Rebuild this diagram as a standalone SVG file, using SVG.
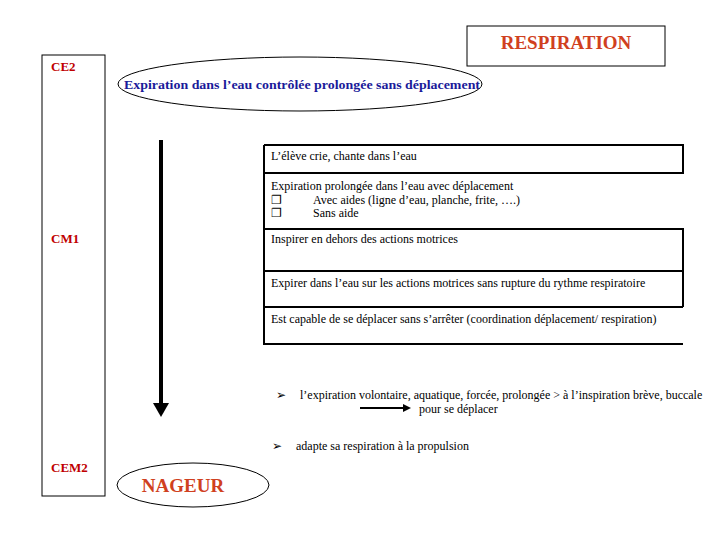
<svg xmlns="http://www.w3.org/2000/svg" width="720" height="540" viewBox="0 0 720 540">
<style>
.t{font-family:'Liberation Serif','Times New Roman',serif;font-size:12px;fill:#000}
.lvl{font-family:'Liberation Serif',serif;font-size:13px;font-weight:bold;fill:#c00000}
.box{fill:none;stroke:#000;stroke-width:2}
</style>
<rect width="720" height="540" fill="#fff"/>
<g id="title"><rect x="467" y="26" width="198" height="40" fill="#fff" stroke="#000" stroke-width="1"/>
<text x="566" y="49" text-anchor="middle" font-family="'Liberation Serif',serif" font-size="19" font-weight="bold" fill="#d04020">RESPIRATION</text></g>
<g id="levels"><rect x="42" y="55" width="63" height="441" fill="none" stroke="#000" stroke-width="1"/>
<text class="lvl" x="51" y="71">CE2</text>
<text class="lvl" x="51" y="243">CM1</text>
<text class="lvl" x="51" y="472">CEM2</text></g>
<g id="start"><ellipse cx="300" cy="84" rx="182" ry="27" fill="#fff" stroke="#000"/>
<text x="302" y="89" text-anchor="middle" font-family="'Liberation Serif',serif" font-size="13" font-weight="bold" fill="#1a1a9a" textLength="356" lengthAdjust="spacingAndGlyphs">Expiration dans l’eau contrôlée prolongée sans déplacement</text></g>
<g id="connectors"><line x1="161" y1="140" x2="161" y2="404" stroke="#000" stroke-width="4"/>
<polygon points="153,403 169,403 161,417" fill="#000"/>
<line x1="360" y1="408" x2="405" y2="408" stroke="#000" stroke-width="2"/>
<polygon points="403,404 411,408 403,412" fill="#000"/></g>
<g id="steps">
<path class="box" d="M264,145 H683 V173 H264 M264,145 V344 H683 M264,229 H683 V271 M264,271 H683 V307 M264,307 H683"/>
<text class="t" x="271" y="160">L’élève crie, chante dans l’eau</text>
<text class="t" x="271" y="190">Expiration prolongée dans l’eau avec déplacement</text>
<text class="t" x="271" y="204">❐</text><text class="t" x="313" y="204">Avec aides (ligne d’eau, planche, frite, ….)</text>
<text class="t" x="271" y="217">❐</text><text class="t" x="313" y="217">Sans aide</text>
<text class="t" x="271" y="243">Inspirer en dehors des actions motrices</text>
<text class="t" x="271" y="287">Expirer dans l’eau sur les actions motrices sans rupture du rythme respiratoire</text>
<text class="t" x="271" y="323">Est capable de se déplacer sans s’arrêter (coordination déplacement/ respiration)</text>
</g>
<g id="notes">
<text class="t" x="276" y="399">➢</text>
<text class="t" x="300" y="399">l’expiration volontaire, aquatique, forcée, prolongée &gt; à l’inspiration brève, buccale</text>
<text class="t" x="419" y="413">pour se déplacer</text>
<text class="t" x="272" y="450">➢</text>
<text class="t" x="296" y="450">adapte sa respiration à la propulsion</text>
</g>
<g id="end"><ellipse cx="193" cy="485" rx="76" ry="22" fill="#fff" stroke="#000"/>
<text x="183" y="492" text-anchor="middle" font-family="'Liberation Serif',serif" font-size="19" font-weight="bold" fill="#d04020">NAGEUR</text></g>
</svg>
